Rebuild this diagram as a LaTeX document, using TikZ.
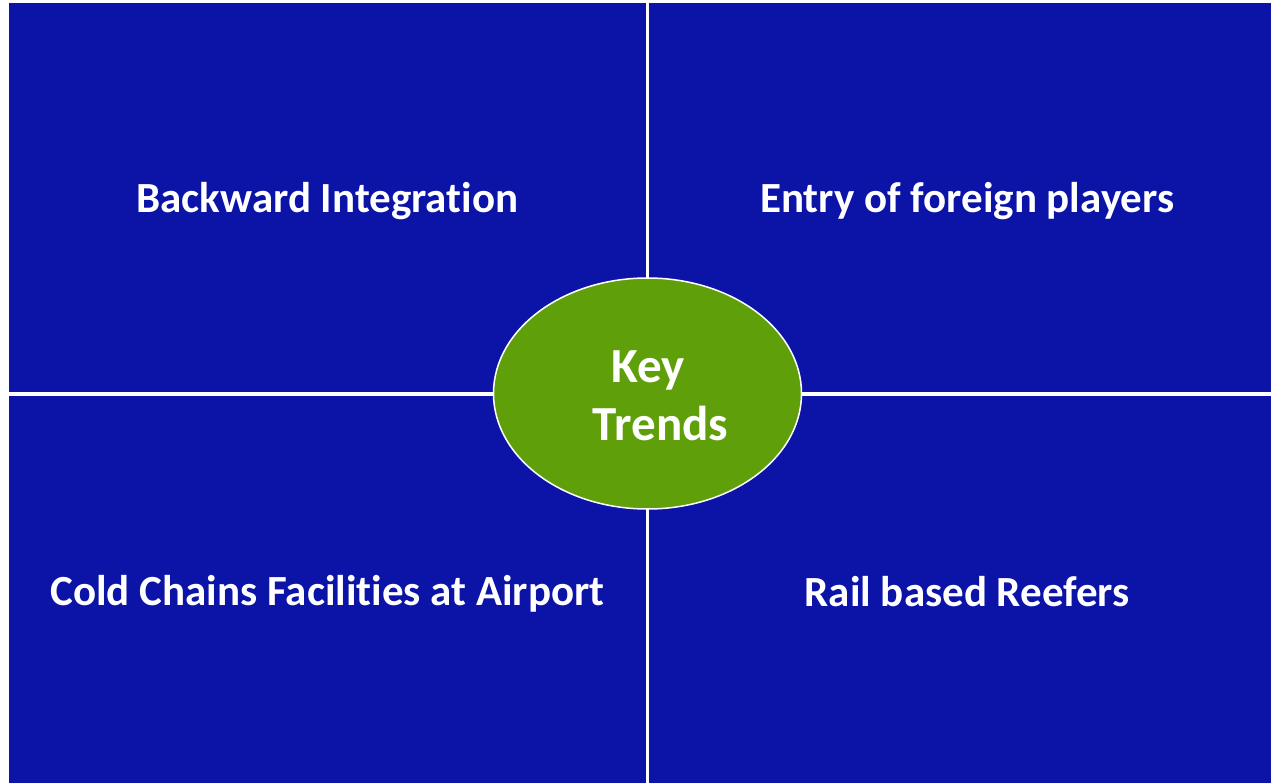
\documentclass[tikz,border=0pt]{standalone}
\usepackage{fontspec}
\setmainfont{Carlito}[RawFeature=-liga]
\usetikzlibrary{shapes.geometric}
\definecolor{qblue}{RGB}{11,20,166}
\definecolor{kgreen}{RGB}{95,160,10}
\tikzset{
  quad/.style={fill=qblue, draw=none, anchor=north west, inner sep=0pt},
  qtext/.style={text=white, inner sep=0pt, font=\fontsize{43}{50}\selectfont\bfseries},
  hub/.style={ellipse, fill=kgreen, draw=white, line width=1.5pt, inner sep=0pt,
    minimum width=308pt, minimum height=231pt},
  hubtext/.style={text=white, anchor=base, inner sep=0pt, font=\fontsize{49}{58}\selectfont\bfseries}
}
\begin{document}
\begin{tikzpicture}[x=1pt,y=-1pt]
\fill[white] (0,0) rectangle (1271,783);
\useasboundingbox (0,0) rectangle (1271,783);
\node[quad, minimum width=636.5pt, minimum height=389pt] (tl) at (9,3) {};
\node[quad, minimum width=622pt, minimum height=389pt] (tr) at (649,3) {};
\node[quad, minimum width=636.5pt, minimum height=387.5pt] (bl) at (9,395.5) {};
\node[quad, minimum width=622pt, minimum height=387.5pt] (br) at (649,395.5) {};
\node[qtext, yshift=-3pt] (tlt) at (tl.center) {Backward Integration};
\node[qtext, xshift=7pt, yshift=-3pt] (trt) at (tr.center) {Entry of foreign players};
\node[qtext, yshift=-4pt] (blt) at (bl.center) {Cold Chains Facilities at Airport};
\node[qtext, xshift=7pt, yshift=-2pt] (brt) at (br.center) {Rail based Reefers};
\node[hub] (kt) at (647.5,393.5) {};
\node[hubtext] (key) at (648,382) {Key};
\node[hubtext] (trends) at (660.5,440) {Trends};
\end{tikzpicture}
\end{document}
